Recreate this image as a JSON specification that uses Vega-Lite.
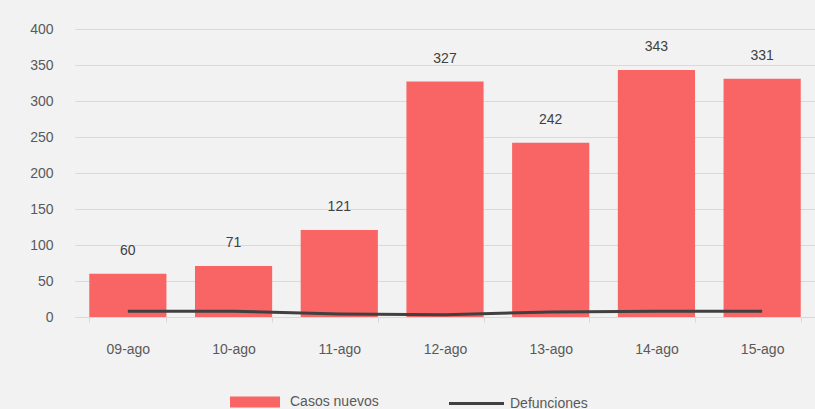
{
  "$schema": "https://vega.github.io/schema/vega-lite/v6.json",
  "autosize": "none",
  "width": 740,
  "height": 288,
  "padding": {"left": 75, "top": 29, "right": 0, "bottom": 92},
  "background": "#f2f2f2",
  "config": {
    "view": {"stroke": null},
    "font": "Liberation Sans",
    "axis": {"labelFont": "Liberation Sans", "labelFontSize": 14, "labelColor": "#595959"},
    "legend": {"labelFont": "Liberation Sans", "labelFontSize": 14, "labelColor": "#595959", "padding": 0}
  },
  "data": {
    "values": [
      {"fecha": "09-ago", "serie": "Casos nuevos", "valor": 60},
      {"fecha": "10-ago", "serie": "Casos nuevos", "valor": 71},
      {"fecha": "11-ago", "serie": "Casos nuevos", "valor": 121},
      {"fecha": "12-ago", "serie": "Casos nuevos", "valor": 327},
      {"fecha": "13-ago", "serie": "Casos nuevos", "valor": 242},
      {"fecha": "14-ago", "serie": "Casos nuevos", "valor": 343},
      {"fecha": "15-ago", "serie": "Casos nuevos", "valor": 331},
      {"fecha": "09-ago", "serie": "Defunciones", "valor": 8},
      {"fecha": "10-ago", "serie": "Defunciones", "valor": 8},
      {"fecha": "11-ago", "serie": "Defunciones", "valor": 4},
      {"fecha": "12-ago", "serie": "Defunciones", "valor": 3},
      {"fecha": "13-ago", "serie": "Defunciones", "valor": 7},
      {"fecha": "14-ago", "serie": "Defunciones", "valor": 8},
      {"fecha": "15-ago", "serie": "Defunciones", "valor": 8}
    ]
  },
  "encoding": {
    "x": {
      "field": "fecha", "type": "nominal", "sort": null,
      "scale": {"paddingInner": 0.27, "paddingOuter": 0.135},
      "axis": {"title": null, "labelAngle": 0, "labelPadding": 20, "domainColor": "#d9d9d9", "tickColor": "#d9d9d9", "tickSize": 5, "tickBand": "extent", "grid": false}
    },
    "y": {
      "field": "valor", "type": "quantitative",
      "scale": {"domain": [0, 400]},
      "axis": {"title": null, "values": [0, 50, 100, 150, 200, 250, 300, 350, 400], "domain": false, "ticks": false, "labelPadding": 22, "gridColor": "#d9d9d9"}
    }
  },
  "layer": [
    {
      "transform": [{"filter": "datum.serie == 'Casos nuevos'"}],
      "mark": {"type": "bar"},
      "encoding": {
        "color": {
          "field": "serie", "type": "nominal",
          "scale": {"domain": ["Casos nuevos"], "range": ["#f96464"]},
          "legend": {"title": null, "orient": "none", "legendX": 169, "legendY": 362, "symbolType": "M-2.5,-0.55H2.5V0.55H-2.5Z", "symbolSize": 400, "symbolOpacity": 1, "labelOffset": 24}
        }
      }
    },
    {
      "transform": [{"filter": "datum.serie == 'Casos nuevos'"}],
      "mark": {"type": "text", "baseline": "bottom", "dy": -16, "fontSize": 14, "color": "#404040"},
      "encoding": {"text": {"field": "valor", "type": "quantitative"}}
    },
    {
      "transform": [{"filter": "datum.serie == 'Defunciones'"}],
      "mark": {"type": "line", "strokeWidth": 3},
      "encoding": {
        "stroke": {
          "field": "serie", "type": "nominal",
          "scale": {"domain": ["Defunciones"], "range": ["#404040"]},
          "legend": {"title": null, "orient": "none", "legendX": 389, "legendY": 362, "symbolType": "M-2.5,0H2.5", "symbolSize": 484, "symbolStrokeWidth": 3, "labelOffset": 21}
        }
      }
    }
  ]
}
